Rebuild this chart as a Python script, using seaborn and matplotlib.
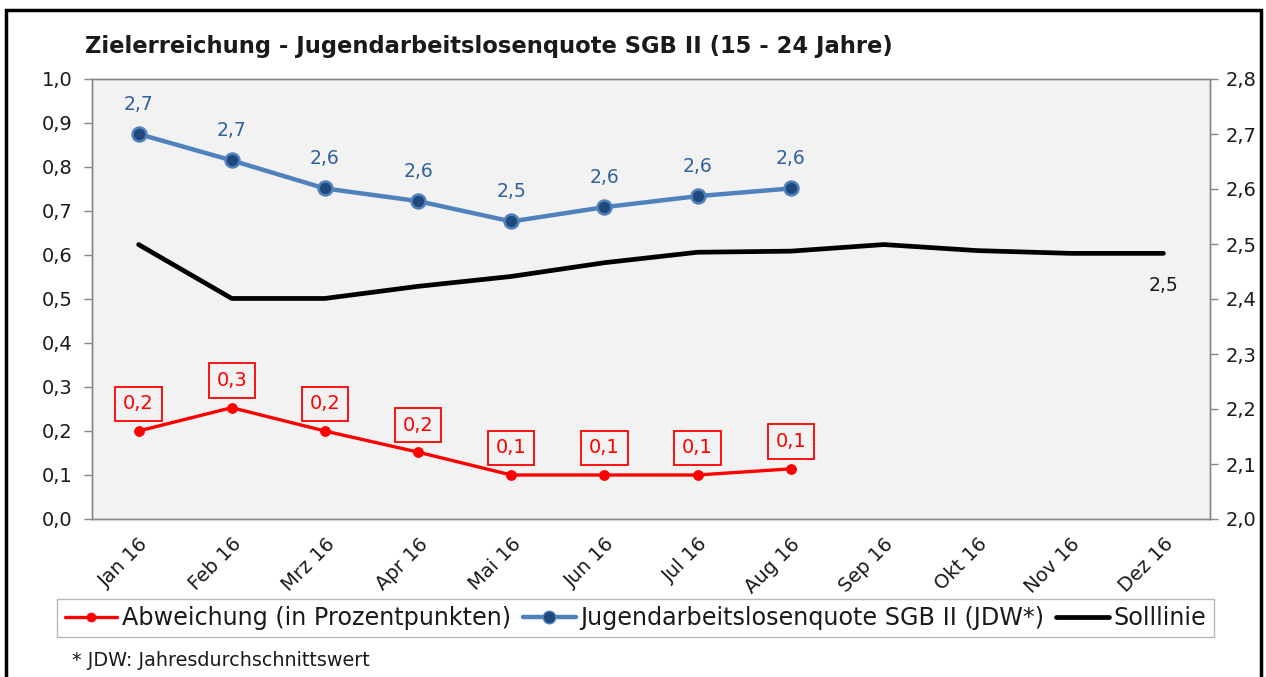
import numpy as np
import seaborn as sns
import matplotlib
matplotlib.use("Agg")
import matplotlib.pyplot as plt
from matplotlib.patches import Rectangle
from matplotlib.lines import Line2D
from matplotlib.ticker import FuncFormatter

# Daten
monate = ["Jan 16", "Feb 16", "Mrz 16", "Apr 16", "Mai 16", "Jun 16",
          "Jul 16", "Aug 16", "Sep 16", "Okt 16", "Nov 16", "Dez 16"]
abweichung = [0.20, 0.253, 0.20, 0.152, 0.10, 0.10, 0.10, 0.114]
abweichung_labels = ["0,2", "0,3", "0,2", "0,2", "0,1", "0,1", "0,1", "0,1"]
quote = [2.700, 2.652, 2.601, 2.578, 2.541, 2.567, 2.587, 2.601]
quote_labels = ["2,7", "2,7", "2,6", "2,6", "2,5", "2,6", "2,6", "2,6"]
soll = [2.499, 2.401, 2.401, 2.423, 2.441, 2.466, 2.485, 2.487,
        2.499, 2.488, 2.483, 2.483]
soll_label = "2,5"

sns.set_style("white")
plt.rcParams["font.family"] = ["DejaVu Sans"]

W, H = 1266, 677
fig = plt.figure(figsize=(W / 100, H / 100), dpi=100)
ax = fig.add_axes([92 / W, 1 - 519 / H, (1210 - 92) / W, (519 - 79) / H])
ax2 = ax.twinx()

x_all = np.arange(len(monate))
x_ist = x_all[:len(quote)]

red = "#FF0000"
blue = "#4F81BD"
navy = "#1F497D"
txt = "#1A1A1A"

sns.lineplot(x=x_ist, y=abweichung, ax=ax, color=red, lw=2.4, marker="o",
             markersize=7, markeredgecolor=red, legend=False)
sns.lineplot(x=x_ist, y=quote, ax=ax2, color=blue, lw=3.2, marker="o",
             markersize=10, markerfacecolor=navy, markeredgecolor=blue,
             markeredgewidth=1.8, legend=False)
sns.lineplot(x=x_all, y=soll, ax=ax2, color="black", lw=3.4, legend=False)

ax.set_facecolor("#F2F2F2")
ax.set_xlim(-0.5, 11.5)
ax.set_ylim(0, 1.0)
ax2.set_ylim(2.0, 2.8)
ax.set_yticks(np.arange(0, 1.01, 0.1))
ax2.set_yticks(np.arange(2.0, 2.81, 0.1))
komma = FuncFormatter(lambda v, p: f"{v:.1f}".replace(".", ","))
ax.yaxis.set_major_formatter(komma)
ax2.yaxis.set_major_formatter(komma)
ax.set_xticks(x_all)
ax.set_xticklabels(monate, rotation=45, ha="right", rotation_mode="anchor")
ax.set_xlabel("")
ax.set_ylabel("")
ax2.set_ylabel("")

for a in (ax, ax2):
    for s in a.spines.values():
        s.set_color("#868686")
        s.set_linewidth(1)
ax.tick_params(axis="y", direction="out", length=6, width=1, color="#868686",
               pad=8, labelsize=14, labelcolor=txt, left=True)
ax2.tick_params(axis="y", direction="out", length=6, width=1, color="#868686",
                pad=5, labelsize=14, labelcolor=txt, right=True)
ax.tick_params(axis="x", length=0, pad=11, labelsize=14, labelcolor=txt)

# Datenbeschriftungen
for xi, yi, t in zip(x_ist, quote, quote_labels):
    ax2.annotate(t, (xi, yi), xytext=(0, 21.5), textcoords="offset points",
                 ha="center", va="center", fontsize=13.5, color="#34609A")
for xi, yi, t in zip(x_ist, abweichung, abweichung_labels):
    ax.annotate(t, (xi, yi), xytext=(0, 19.5), textcoords="offset points",
                ha="center", va="center", fontsize=14, color=red,
                bbox=dict(boxstyle="square,pad=0.4", fc="none", ec=red, lw=1.3))
ax2.annotate(soll_label, (x_all[-1], soll[-1]), xytext=(0, -23),
             textcoords="offset points", ha="center", va="center",
             fontsize=13.5, color=txt)

fig.text(85 / W, 1 - 47 / H,
         "Zielerreichung - Jugendarbeitslosenquote SGB II (15 - 24 Jahre)",
         fontsize=16.3, fontweight="bold", ha="left", va="center", color=txt)

handles = [
    Line2D([], [], color=red, lw=2.4, marker="o", markersize=6),
    Line2D([], [], color=blue, lw=3.2, marker="o", markersize=9,
           markerfacecolor=navy, markeredgecolor=blue),
    Line2D([], [], color="black", lw=3.4),
]
names = ["Abweichung (in Prozentpunkten)",
         "Jugendarbeitslosenquote SGB II (JDW*)", "Solllinie"]
leg = fig.legend(handles, names, loc="center", bbox_to_anchor=(0.502, 0.087),
                 ncol=3, fontsize=17.2, frameon=True, fancybox=False,
                 handlelength=2.2, handletextpad=0.2, columnspacing=0.5,
                 borderpad=0.3, borderaxespad=0)
leg.get_frame().set_edgecolor("#A6A6A6")
leg.get_frame().set_linewidth(1)
for t in leg.get_texts():
    t.set_color(txt)

fig.text(72 / W, 1 - 660 / H, "* JDW: Jahresdurchschnittswert",
         fontsize=13.8, ha="left", va="center", color=txt)

fig.patches.append(Rectangle((6 / W, -0.05), (1261 - 6) / W, 1.035,
                             transform=fig.transFigure, fill=False,
                             ec="black", lw=2.5))

fig.savefig("out.png", dpi=100)
